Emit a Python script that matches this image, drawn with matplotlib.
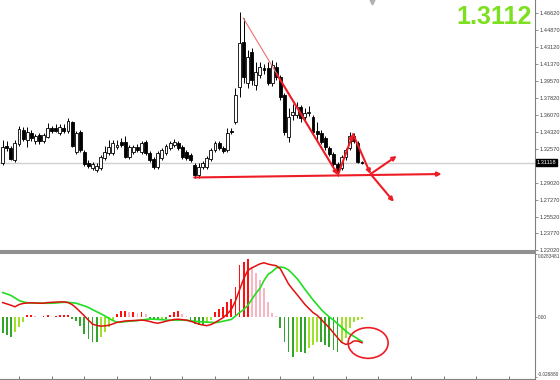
import matplotlib
matplotlib.use("Agg")
import matplotlib.pyplot as plt
from matplotlib.patches import Ellipse
import numpy as np

# --- price data (one candle per bar) ---
opens = [1.3108, 1.3285, 1.3264, 1.3139, 1.3305, 1.3451, 1.3347, 1.3419, 1.3336, 1.3399,
         1.3336, 1.3378, 1.3471, 1.3471, 1.3419, 1.3471, 1.3440, 1.3534, 1.3222, 1.3430,
         1.3222, 1.3108, 1.3056, 1.3035, 1.3056, 1.3160, 1.3212, 1.3212, 1.3274, 1.3326,
         1.3326, 1.3170, 1.3222, 1.3274, 1.3222, 1.3326, 1.3212, 1.3150, 1.3067, 1.3160,
         1.3212, 1.3264, 1.3295, 1.3316, 1.3274, 1.3222, 1.3191, 1.3087, 1.2984, 1.3067,
         1.3067, 1.3150, 1.3243, 1.3316, 1.3264, 1.3243, 1.3440, 1.3534, 1.3897, 1.4364,
         1.3938, 1.4260, 1.3918, 1.4022, 1.4094, 1.4094, 1.3938, 1.4105, 1.4001, 1.3814,
         1.3378, 1.3606, 1.3606, 1.3689, 1.3586, 1.3627, 1.3586, 1.3440, 1.3419, 1.3368,
         1.3264, 1.3201, 1.3098, 1.3056, 1.3170, 1.3264, 1.3388, 1.3316, 1.3118]
closes = [1.3274, 1.3264, 1.3150, 1.3316, 1.3461, 1.3357, 1.3430, 1.3368, 1.3388, 1.3336,
          1.3399, 1.3471, 1.3440, 1.3440, 1.3482, 1.3440, 1.3544, 1.3285, 1.3419, 1.3243,
          1.3098, 1.3077, 1.3098, 1.3077, 1.3170, 1.3222, 1.3274, 1.3316, 1.3295, 1.3295,
          1.3170, 1.3274, 1.3274, 1.3243, 1.3316, 1.3212, 1.3139, 1.3067, 1.3212, 1.3243,
          1.3285, 1.3316, 1.3326, 1.3264, 1.3170, 1.3160, 1.3139, 1.2984, 1.3067, 1.3108,
          1.3160, 1.3243, 1.3316, 1.3264, 1.3233, 1.3419, 1.3430, 1.3814, 1.4354, 1.4001,
          1.4208, 1.3970, 1.4053, 1.4105, 1.4073, 1.3938, 1.4125, 1.4001, 1.3793, 1.3430,
          1.3586, 1.3637, 1.3689, 1.3575, 1.3627, 1.3637, 1.3430, 1.3409, 1.3326, 1.3274,
          1.3201, 1.3098, 1.3015, 1.3170, 1.3243, 1.3388, 1.3336, 1.3118, 1.3112]
highs = [1.3347, 1.3336, 1.3285, 1.3347, 1.3492, 1.3482, 1.3482, 1.3451, 1.3409, 1.3419,
         1.3419, 1.3523, 1.3492, 1.3513, 1.3513, 1.3513, 1.3575, 1.3544, 1.3440, 1.3451,
         1.3243, 1.3139, 1.3118, 1.3108, 1.3191, 1.3285, 1.3347, 1.3347, 1.3347, 1.3368,
         1.3388, 1.3295, 1.3295, 1.3305, 1.3336, 1.3347, 1.3233, 1.3170, 1.3233, 1.3264,
         1.3305, 1.3336, 1.3357, 1.3336, 1.3295, 1.3243, 1.3212, 1.3108, 1.3108, 1.3129,
         1.3181, 1.3264, 1.3336, 1.3336, 1.3285, 1.3471, 1.3471, 1.3887, 1.4675, 1.4613,
         1.4281, 1.4302, 1.4156, 1.4156, 1.4136, 1.4156, 1.4177, 1.4156, 1.4022, 1.3835,
         1.3679, 1.3720, 1.3741, 1.3710, 1.3679, 1.3700, 1.3606, 1.3534, 1.3451, 1.3388,
         1.3285, 1.3222, 1.3118, 1.3191, 1.3264, 1.3430, 1.3419, 1.3336, 1.3129]
lows = [1.3087, 1.3233, 1.3139, 1.3118, 1.3285, 1.3336, 1.3274, 1.3336, 1.3305, 1.3305,
        1.3316, 1.3368, 1.3419, 1.3430, 1.3399, 1.3419, 1.3419, 1.3274, 1.3201, 1.3222,
        1.3077, 1.3056, 1.3035, 1.3015, 1.3035, 1.3139, 1.3191, 1.3191, 1.3253, 1.3274,
        1.3160, 1.3150, 1.3201, 1.3222, 1.3201, 1.3191, 1.3118, 1.3046, 1.3046, 1.3139,
        1.3191, 1.3243, 1.3274, 1.3243, 1.3150, 1.3139, 1.3118, 1.2952, 1.2952, 1.3046,
        1.3046, 1.3129, 1.3222, 1.3243, 1.3212, 1.3222, 1.3409, 1.3513, 1.3793, 1.3938,
        1.3887, 1.3918, 1.3866, 1.3990, 1.4032, 1.3918, 1.3907, 1.3970, 1.3762, 1.3399,
        1.3326, 1.3554, 1.3575, 1.3534, 1.3554, 1.3596, 1.3409, 1.3347, 1.3305, 1.3243,
        1.3181, 1.3077, 1.2973, 1.3035, 1.3139, 1.3243, 1.3316, 1.3108, 1.3098]
bid = 1.31118
price_ticks = [1.46620, 1.44870, 1.43120, 1.41370, 1.39570, 1.37820, 1.36070, 1.34320,
               1.32570, 1.29020, 1.27270, 1.25520, 1.23770, 1.22020]

# --- MACD panel ---
macd_hist = [-0.0072, -0.0081, -0.0090, -0.0068, -0.0045, -0.0023, 0.0007, 0.0007, 0.0005, 0.0002,
             0.0005, 0.0007, 0.0002, 0.0005, 0.0007, 0.0007, 0.0009, -0.0009, -0.0018, -0.0041,
             -0.0077, -0.0099, -0.0113, -0.0113, -0.0090, -0.0068, -0.0045, -0.0014, 0.0014, 0.0027,
             0.0027, 0.0023, 0.0023, 0.0018, 0.0023, 0.0014, -0.0009, -0.0014, -0.0014, -0.0009,
             -0.0009, 0.0009, 0.0023, 0.0027, 0.0014, 0.0005, -0.0014, -0.0032, -0.0036, -0.0036,
             -0.0027, -0.0014, 0.0023, 0.0036, 0.0045, 0.0068, 0.0081, 0.0135, 0.0234, 0.0248,
             0.0261, 0.0225, 0.0198, 0.0167, 0.0131, 0.0068, 0.0018, 0.0005, -0.0050, -0.0113,
             -0.0158, -0.0180, -0.0158, -0.0158, -0.0162, -0.0140, -0.0126, -0.0113, -0.0113, -0.0126,
             -0.0135, -0.0149, -0.0158, -0.0117, -0.0095, -0.0050, -0.0023, -0.0014, -0.0009]
macd_main = [0.0065, 0.0059, 0.0053, 0.0046, 0.0056, 0.0061, 0.0063, 0.0064, 0.0063, 0.0062,
             0.0062, 0.0065, 0.0066, 0.0067, 0.0068, 0.0068, 0.0065, 0.0056, 0.0041, 0.0023,
             0.0005, -0.0014, -0.0032, -0.0038, -0.0041, -0.0040, -0.0037, -0.0031, -0.0024, -0.0021,
             -0.0018, -0.0017, -0.0016, -0.0015, -0.0014, -0.0016, -0.0020, -0.0025, -0.0028, -0.0024,
             -0.0019, -0.0015, -0.0011, -0.0010, -0.0012, -0.0014, -0.0019, -0.0025, -0.0032, -0.0036,
             -0.0039, -0.0034, -0.0025, -0.0014, -0.0003, 0.0014, 0.0034, 0.0072, 0.0122, 0.0171,
             0.0209, 0.0221, 0.0230, 0.0239, 0.0244, 0.0238, 0.0234, 0.0231, 0.0217, 0.0183,
             0.0149, 0.0125, 0.0103, 0.0080, 0.0057, 0.0038, 0.0020, 0.0008, -0.0011, -0.0030,
             -0.0049, -0.0071, -0.0093, -0.0114, -0.0123, -0.0120, -0.0108, -0.0108, -0.0116]
macd_signal = [0.0110, 0.0104, 0.0097, 0.0086, 0.0074, 0.0068, 0.0064, 0.0063, 0.0063, 0.0063,
               0.0062, 0.0062, 0.0062, 0.0063, 0.0065, 0.0066, 0.0066, 0.0064, 0.0062, 0.0056,
               0.0050, 0.0043, 0.0033, 0.0024, 0.0015, 0.0005, -0.0006, -0.0016, -0.0024, -0.0023,
               -0.0021, -0.0019, -0.0018, -0.0016, -0.0014, -0.0011, -0.0009, -0.0010, -0.0011, -0.0012,
               -0.0014, -0.0014, -0.0014, -0.0014, -0.0014, -0.0015, -0.0017, -0.0019, -0.0021, -0.0022,
               -0.0023, -0.0024, -0.0025, -0.0023, -0.0019, -0.0015, -0.0011, 0.0004, 0.0020, 0.0033,
               0.0052, 0.0079, 0.0106, 0.0129, 0.0164, 0.0192, 0.0204, 0.0221, 0.0225, 0.0222,
               0.0212, 0.0194, 0.0175, 0.0151, 0.0125, 0.0101, 0.0077, 0.0056, 0.0034, 0.0016,
               0.0000, -0.0014, -0.0030, -0.0046, -0.0063, -0.0077, -0.0087, -0.0099, -0.0110]
macd_ticks = [0.0283481, 0.0, -0.026880]
macd_ticklabels = ["0.0283481", "0.00", "-0.026880"]

# --- drawn objects (bar index, price) ---
trend_start = (58.9, 1.4613)
trend_end = (82.1, 1.2984)
arrow_from = [(67.1, 1.4032), (82.1, 1.2984), (85.8, 1.3409), (90.1, 1.2994), (90.1, 1.2994), (46.9, 1.2958)]
arrow_to = [(82.1, 1.2984), (85.8, 1.3409), (90.1, 1.2994), (96.5, 1.3181), (95.8, 1.2706), (107.5, 1.2994)]
circle_center = (89.5, -0.0117)
circle_size = (9.8, 0.0138)

idx = np.arange(len(opens))
o = np.array(opens); c = np.array(closes)
up = c >= o

fig = plt.figure(figsize=(5.6, 3.8), dpi=100)
W = 535 / 560
ax = fig.add_axes([0, 1 - 251 / 380, W, 251 / 380])
ax2 = fig.add_axes([0, 1 / 380, W, 126 / 380])
xlim = (-0.66, 130.37)
lab_font = dict(family="Liberation Sans", size=4.1)
small_font = dict(family="Liberation Sans", size=3.4)

# bid line
ax.axhline(bid, color="#d0d0d0", lw=1, zorder=0)

# candles
ax.vlines(idx, lows, highs, color="black", lw=0.7, zorder=1)
body_bottom = np.minimum(o, c)
body_height = np.maximum(np.abs(c - o), 0.0002)
ax.bar(idx[up], body_height[up], bottom=body_bottom[up], width=0.72,
       color="white", edgecolor="black", lw=0.6, zorder=2)
ax.bar(idx[~up], body_height[~up], bottom=body_bottom[~up], width=0.72,
       color="black", edgecolor="black", lw=0.6, zorder=2)

red = "#ee1c25"
ax.plot([trend_start[0], trend_end[0]], [trend_start[1], trend_end[1]],
        color="#f07070", lw=0.8, zorder=3)
for a, b in zip(arrow_from, arrow_to):
    ax.annotate("", xy=b, xytext=a,
                arrowprops=dict(arrowstyle="-|>", color=red, lw=1.5,
                                mutation_scale=6, shrinkA=0, shrinkB=0), zorder=4)

ax.set_xlim(*xlim)
ax.set_ylim(1.2195, 1.4800)
ax.yaxis.tick_right()
ax.set_yticks(price_ticks)
ax.set_yticklabels([f"{t:.5f}" for t in price_ticks], fontdict=lab_font)
ax.set_xticks([])
for s in ["left", "top"]:
    ax.spines[s].set_visible(False)
ax.spines["right"].set_color("#808080")
ax.spines["bottom"].set_color("#909090")
ax.spines["bottom"].set_linewidth(1.5)
ax.tick_params(axis="y", direction="out", length=2, width=0.6, pad=1.2,
               color="#808080", labelcolor="#404040")

ax.text(1.003, bid, f"{bid:.5f}", transform=ax.get_yaxis_transform(),
        color="white", va="center", ha="left", fontdict=lab_font,
        bbox=dict(facecolor="black", edgecolor="black", pad=0.5))

fig.text(532 / 560, 1 - 17 / 380, f"{bid:.4f}", fontsize=18, fontweight="bold",
         family="Liberation Sans", color="#7ce01e", ha="right", va="center")
ax.plot([0.695], [0.993], marker="v", ms=3.5, color="#b0b0b0", transform=ax.transAxes,
        clip_on=False)

# MACD histogram
hist = np.array(macd_hist)
prev = np.concatenate([[hist[0]], hist[:-1]])
colors = []
for v, p in zip(hist, prev):
    if v >= 0:
        colors.append("#ff1010" if v >= p else "#f6b6c4")
    else:
        colors.append("#33a52a" if v <= p else "#9ee02a")
ax2.bar(idx, hist, width=0.45, color=colors, lw=0, zorder=1)
ax2.plot(idx, macd_signal, color="#22dd22", lw=1.2, zorder=2)
ax2.plot(idx, macd_main, color="#e01010", lw=1.1, zorder=3)
ax2.add_patch(Ellipse(circle_center, circle_size[0], circle_size[1],
                      fill=False, edgecolor=red, lw=1.2, zorder=4))

ax2.set_xlim(*xlim)
ax2.set_ylim(-0.0279, 0.0288)
ax2.yaxis.tick_right()
ax2.set_yticks(macd_ticks)
ax2.set_yticklabels(macd_ticklabels, fontdict=small_font)
ax2.get_yticklabels()[0].set_va("top")
ax2.get_yticklabels()[2].set_va("bottom")
ax2.set_xticks(np.arange(4, 131, 8))
ax2.set_xticklabels([])
ax2.spines["left"].set_visible(False)
ax2.spines["top"].set_color("#909090")
ax2.spines["top"].set_linewidth(1.5)
ax2.spines["right"].set_color("#808080")
ax2.spines["bottom"].set_color("#808080")
ax2.tick_params(axis="y", direction="out", length=1.5, width=0.6, pad=0.6,
                color="#808080", labelcolor="#404040")
ax2.tick_params(axis="x", direction="in", length=2.5, width=0.6, color="#606060")

fig.savefig("out.png", dpi=100)
